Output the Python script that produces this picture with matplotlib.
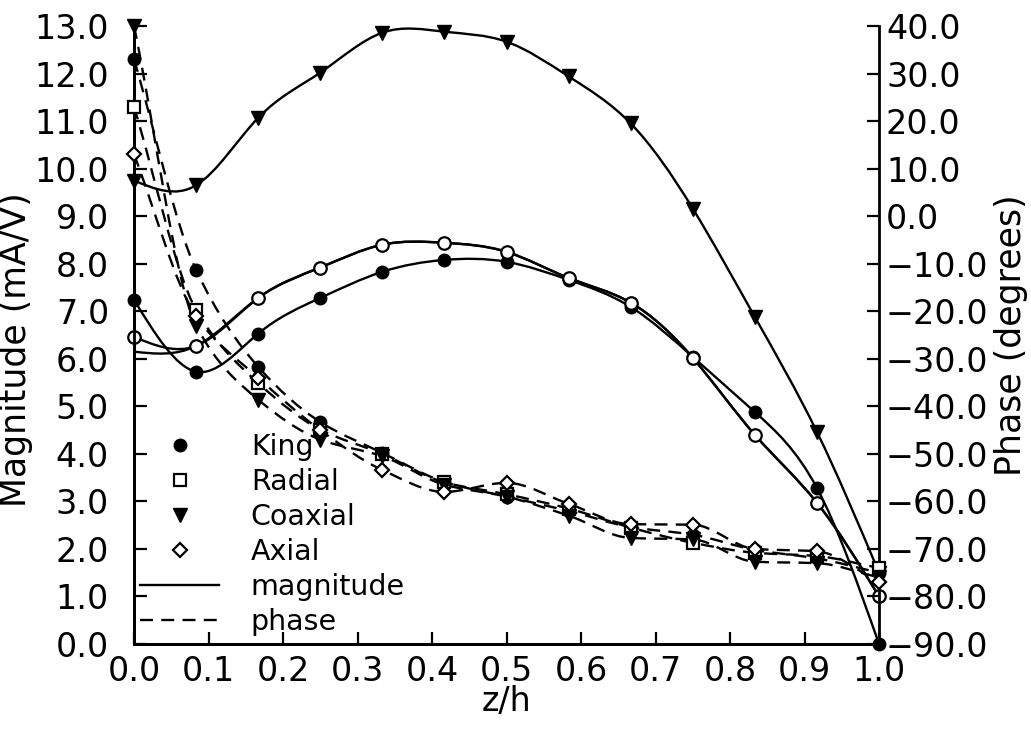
import numpy as np
import matplotlib
matplotlib.use("Agg")
import matplotlib.pyplot as plt
from matplotlib.path import Path
from matplotlib.patches import PathPatch
from matplotlib.lines import Line2D
from matplotlib.ticker import MultipleLocator, FuncFormatter

# ---------------- data ----------------
z = [0.0, 0.0833, 0.1667, 0.25, 0.3333, 0.4167, 0.5, 0.5833, 0.6667, 0.75, 0.8333, 0.9167, 1.0]

king_mag   = [7.24, 5.73, 6.53, 7.28, 7.83, 8.08, 8.04, 7.66, 7.09, 6.04, 4.88, 3.28, 0.0]
radial_mag = [6.46, 6.27, 7.28, 7.92, 8.40, 8.44, 8.25, 7.70, 7.18, 6.02, 4.40, 2.97, 1.0]
axial_mag  = [6.15, 6.27, 7.28, 7.92, 8.40, 8.44, 8.25, 7.70, 7.18, 6.02, 4.40, 2.97, 1.0]
coax_mag   = [9.75, 9.65, 11.07, 12.02, 12.86, 12.88, 12.67, 11.94, 10.95, 9.16, 6.88, 4.46, 1.5]

king_phase   = [33.0, -11.3, -31.7, -43.3, -49.8, -55.9, -59.0, -62.0, -65.4, -67.0, -70.2, -72.0, -75.0]
radial_phase = [23.0, -19.7, -35.1, -44.9, -50.0, -56.0, -58.5, -61.5, -65.5, -68.7, -70.8, -71.5, -74.0]
coax_phase   = [40.0, -23.0, -38.6, -47.0, -50.5, -56.5, -59.0, -63.0, -67.7, -68.0, -72.7, -73.0, -76.0]
axial_phase  = [13.0, -21.0, -34.0, -45.0, -53.4, -58.0, -56.1, -60.5, -64.8, -64.9, -70.0, -70.5, -77.0]

legend_labels = ["King", "Radial", "Coaxial", "Axial", "magnitude", "phase"]


# ---------------- smooth curve helpers (drawn as Bezier paths) ----------------
def natural_slopes(x, y):
    x = np.asarray(x, float); y = np.asarray(y, float)
    n = len(x); h = np.diff(x)
    A = np.zeros((n, n)); b = np.zeros(n)
    A[0, 0] = 1; A[-1, -1] = 1
    for i in range(1, n - 1):
        A[i, i - 1] = h[i - 1]; A[i, i] = 2 * (h[i - 1] + h[i]); A[i, i + 1] = h[i]
        b[i] = 6 * ((y[i + 1] - y[i]) / h[i] - (y[i] - y[i - 1]) / h[i - 1])
    M = np.linalg.solve(A, b)
    d0 = np.empty(n - 1); d1 = np.empty(n - 1)
    for i in range(n - 1):
        s = (y[i + 1] - y[i]) / h[i]
        d0[i] = s - h[i] * (2 * M[i] + M[i + 1]) / 6
        d1[i] = s + h[i] * (M[i] + 2 * M[i + 1]) / 6
    return d0, d1


def pchip_slopes(x, y):
    x = np.asarray(x, float); y = np.asarray(y, float)
    h = np.diff(x); dl = np.diff(y) / h
    n = len(x); d = np.zeros(n)
    for i in range(1, n - 1):
        if dl[i - 1] * dl[i] > 0:
            w1 = 2 * h[i] + h[i - 1]; w2 = h[i] + 2 * h[i - 1]
            d[i] = (w1 + w2) / (w1 / dl[i - 1] + w2 / dl[i])
    d[0] = dl[0]; d[-1] = dl[-1]
    return d[:-1], d[1:]


def smooth_path(x, y, kind="natural"):
    x = np.asarray(x, float); y = np.asarray(y, float)
    d0, d1 = natural_slopes(x, y) if kind == "natural" else pchip_slopes(x, y)
    verts = [(x[0], y[0])]; codes = [Path.MOVETO]
    for i in range(len(x) - 1):
        h = x[i + 1] - x[i]
        verts += [(x[i] + h / 3, y[i] + h / 3 * d0[i]),
                  (x[i + 1] - h / 3, y[i + 1] - h / 3 * d1[i]),
                  (x[i + 1], y[i + 1])]
        codes += [Path.CURVE4] * 3
    return Path(verts, codes)


# ---------------- figure ----------------
plt.rcParams["font.family"] = ["DejaVu Sans"]
fig = plt.figure(figsize=(10.31, 7.29), dpi=100)
ax = fig.add_axes([0.130, 0.1166, 0.7226, 0.8477])
ax2 = ax.twinx()

LW = 1.7
dash = (0, (5.5, 3.5))

# magnitude curves (solid)
for ys in (king_mag, radial_mag, axial_mag, coax_mag):
    ax.add_patch(PathPatch(smooth_path(z, ys, "natural"), fill=False,
                           lw=LW, ec="black", clip_on=False))
# phase curves (dashed)
for ys in (king_phase, radial_phase, coax_phase, axial_phase):
    ax2.add_patch(PathPatch(smooth_path(z, ys, "pchip"), fill=False,
                            lw=LW, ec="black", ls=dash, clip_on=False))

mk = dict(ls="none", color="black", clip_on=False, zorder=5)
ax.plot(z, king_mag, marker="o", ms=9, **mk)
ax.plot(z, radial_mag, marker="o", ms=9, mfc="white", mew=1.6, **mk)
ax.plot(z, coax_mag, marker="v", ms=10, **mk)

ax2.plot(z, king_phase, marker="o", ms=9, **mk)
ax2.plot(z, radial_phase, marker="s", ms=8, mfc="white", mew=1.6, **mk)
ax2.plot(z, coax_phase, marker="v", ms=10, **mk)
ax2.plot(z, axial_phase, marker="D", ms=7.5, mfc="white", mew=1.6, **mk)

# axes setup
ax.set_xlim(0, 1.0)
ax.set_ylim(0, 13.0)
ax2.set_ylim(-90, 40)
ax.xaxis.set_major_locator(MultipleLocator(0.1))
ax.yaxis.set_major_locator(MultipleLocator(1.0))
ax2.yaxis.set_major_locator(MultipleLocator(10))
ax.xaxis.set_major_formatter(FuncFormatter(lambda v, p: f"{v:.1f}"))
ax.yaxis.set_major_formatter(FuncFormatter(lambda v, p: f"{v:.1f}"))
ax2.yaxis.set_major_formatter(FuncFormatter(lambda v, p: f"{v:.1f}".replace("-", "\u2212")))

for a in (ax, ax2):
    a.spines["top"].set_visible(False)
    for s in a.spines.values():
        s.set_linewidth(2.0)
ax.spines["right"].set_visible(False)

ax.tick_params(axis="both", direction="in", length=9, width=1.6, labelsize=24)
ax.tick_params(axis="x", pad=8)
ax.tick_params(axis="y", pad=18)
ax2.tick_params(axis="y", direction="in", length=9, width=1.6, labelsize=24, pad=5)

ax.set_xlabel("z/h", fontsize=24, labelpad=-2)
ax.set_ylabel("Magnitude (mA/V)", fontsize=25)
ax.yaxis.set_label_coords(-0.1356, 0.476)
ax2.set_ylabel("Phase (degrees)", fontsize=25, labelpad=4)

handles = [
    Line2D([], [], ls="none", marker="o", ms=9, color="black"),
    Line2D([], [], ls="none", marker="s", ms=8, color="black", mfc="white", mew=1.6),
    Line2D([], [], ls="none", marker="v", ms=10, color="black"),
    Line2D([], [], ls="none", marker="D", ms=7.5, color="black", mfc="white", mew=1.6),
    Line2D([], [], ls="-", lw=LW, color="black"),
    Line2D([], [], ls=dash, lw=LW, color="black"),
]
ax.legend(handles, legend_labels, loc="upper left", bbox_to_anchor=(0.0, 0.351),
          frameon=False, fontsize=20.5, handlelength=2.8, handletextpad=1.1,
          labelspacing=0.25, borderaxespad=0.0, borderpad=0.2, numpoints=1)

fig.savefig("out.png", dpi=100)
